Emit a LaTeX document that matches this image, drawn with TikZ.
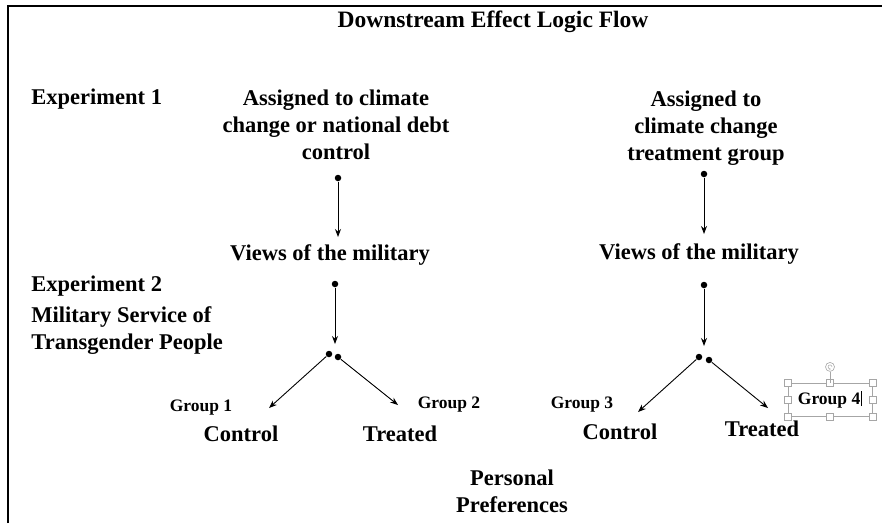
\documentclass[tikz,border=0pt]{standalone}
\usepackage{fontspec}
\setmainfont{Liberation Serif}
\usetikzlibrary{arrows.meta,positioning}

\tikzset{
  big/.style={font=\fontsize{22.5}{27}\selectfont\bfseries,align=center,inner sep=0pt},
  grp/.style={font=\fontsize{17.5}{20}\selectfont\bfseries,inner sep=0pt},
  dot/.style={circle,fill,inner sep=0pt,minimum size=6.5pt},
  handle/.style={draw=gray!70,fill=white,line width=0.6pt,inner sep=0pt,minimum size=7pt},
}

\begin{document}
\begin{tikzpicture}[x=1pt,y=-1pt,line width=0.9pt,>={Stealth[length=8pt,width=6pt]}]
\useasboundingbox (0,0) rectangle (882,523);

% frame
\draw[line width=2.5pt] (8,523) -- (8,6) -- (882,6);

\node[big,font=\fontsize{23.5}{27}\selectfont\bfseries](title) at (493,22){Downstream Effect Logic Flow};

% left labels
\node[big,anchor=west](exp1) at (31,99){Experiment 1};
\node[big,anchor=west](exp2) at (31,286){Experiment 2};
\node[big,anchor=west,align=left](mil) at (31,331){Military Service of\\Transgender People};

% experiment columns
\node[big](assign1) at (336,125){Assigned to climate\\change or national debt\\control};
\node[big](assign2) at (706,128){Assigned to\\climate change\\treatment group};
\node[big](views1) at (330,255){Views of the military};
\node[big](views2) at (699,254){Views of the military};

\node[dot](d1) at (338,178){};
\node[dot](d2) at (335,284){};
\node[dot](d3) at (329,354){};
\node[dot](d4) at (338,357){};
\node[dot](d5) at (704,174){};
\node[dot](d6) at (704,285){};
\node[dot](d7) at (699,357){};
\node[dot](d8) at (709,360){};

\coordinate (e1) at (338,237);
\coordinate (e2) at (335,344);
\coordinate (e3) at (269,408);
\coordinate (e4) at (398,405);
\coordinate (e5) at (704,234);
\coordinate (e6) at (704,346);
\coordinate (e7) at (638,412);
\coordinate (e8) at (768,408);

\path[->] (d1) edge (e1)
  (d2) edge (e2)
  (d3) edge (e3)
  (d4) edge (e4)
  (d5) edge (e5)
  (d6) edge (e6)
  (d7) edge (e7)
  (d8) edge (e8);

% groups
\node[grp](grp1) at (201,408){Group 1};
\node[grp](grp2) at (449,405){Group 2};
\node[grp](grp3) at (582,405){Group 3};
\node[big](ctrl1) at (241,434){Control};
\node[big](trt1) at (400,434){Treated};
\node[big](ctrl2) at (620,432){Control};
\node[big](trt2) at (762,429){Treated};

% selected text box
\node[grp,draw=gray!70,line width=0.6pt,minimum width=84pt,minimum height=33pt](grp4) at (830,399.5){Group 4\hspace{1pt}\rule[-2pt]{0.8pt}{15pt}};
\foreach \a in {north west,north,north east,west,east,south west,south,south east}
  \node[handle] at (grp4.\a){};
\node[draw=gray!70,fill=white,circle,line width=0.6pt,inner sep=0pt,minimum size=9pt,above=11pt of grp4.north](rot){};
\draw[gray!70,line width=0.6pt] (rot) -- (grp4.north);
\draw[gray!70,line width=0.5pt,-{Stealth[length=1.5pt,width=1.5pt]}] ([xshift=2pt]rot.center) arc[start angle=0,end angle=290,radius=2pt];

\node[big](pref) at (512,491){Personal\\Preferences};

\end{tikzpicture}
\end{document}
